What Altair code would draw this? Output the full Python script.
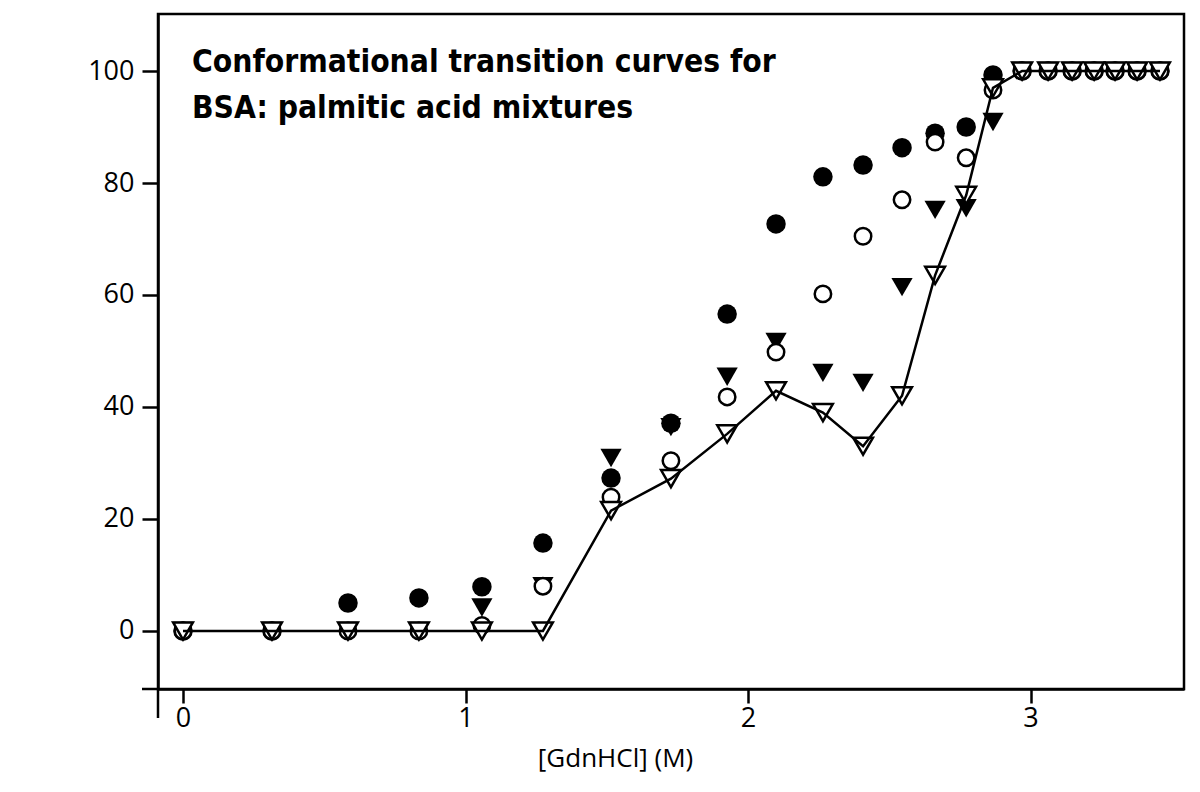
import altair as alt
import pandas as pd

# [GdnHCl] (M)
gdn = [0.0, 0.315, 0.584, 0.835, 1.058, 1.274, 1.515, 1.727, 1.926, 2.099, 2.265,
       2.407, 2.545, 2.662, 2.772, 2.867, 2.970, 3.062, 3.147, 3.225, 3.299, 3.377, 3.458]

filled_circle = [0, 0, 5.0, 5.9, 7.9, 15.7, 27.3, 37.1, 56.6, 72.7, 81.1,
                 83.2, 86.3, 88.9, 90.0, 99.3, 100, 100, 100, 100, 100, 100, 100]
filled_tri = [0, 0, 0, 0, 4.2, 8.0, 30.9, 36.4, 45.4, 51.6, 46.1,
              44.3, 61.4, 75.2, 75.5, 90.9, 100, 100, 100, 100, 100, 100, 100]
open_circle = [0, 0, 0, 0, 1.0, 8.0, 23.9, 30.4, 41.8, 49.8, 60.2,
               70.5, 77.0, 87.3, 84.5, 96.6, 100, 100, 100, 100, 100, 100, 100]
open_tri = [0, 0, 0, 0, 0, 0, 21.5, 27.2, 35.2, 42.9, 39.0,
            33.0, 42.0, 63.5, 77.8, 97.0, 100, 100, 100, 100, 100, 100, 100]

x_ticks = [0, 1, 2, 3]
y_ticks = [0, 20, 40, 60, 80, 100]
title_lines = ["Conformational transition curves for", "BSA: palmitic acid mixtures"]
x_title = "[GdnHCl] (M)"

df = pd.DataFrame({"x": gdn, "fc": filled_circle, "ft": filled_tri,
                   "oc": open_circle, "ot": open_tri})

W, H = 1026, 675
LABEL_FONT = "Open Sans, Lato, sans-serif"

xs = alt.Scale(domain=[-0.0885, 3.543], nice=False, zero=False)
ys = alt.Scale(domain=[-10.36, 110.18], nice=False, zero=False)

x_axis = alt.Axis(values=x_ticks, title=x_title, tickSize=14, labelPadding=2,
                  titleX=457, titleY=69, titleBaseline="middle", titleAnchor="start",
                  titleAlign="center", titleFont=LABEL_FONT, titleFontSize=26,
                  titleFontWeight="normal", titleColor="black")
y_axis = alt.Axis(values=y_ticks, title=None, tickSize=16, labelPadding=8)

X = alt.X("x:Q", scale=xs, axis=x_axis)


def Y(field):
    return alt.Y(f"{field}:Q", scale=ys, axis=y_axis)


base = alt.Chart(df)

fc = base.mark_point(shape="circle", filled=True, color="black", size=380,
                     opacity=1, strokeWidth=0).encode(x=X, y=Y("fc"))
ft = base.mark_point(shape="triangle-down", filled=True, color="black", size=450,
                     opacity=1, strokeWidth=0).encode(x=X, y=Y("ft"))
oc = base.mark_point(shape="circle", filled=True, fill="white", stroke="black",
                     strokeWidth=2.5, size=270, opacity=1).encode(x=X, y=Y("oc"))
ot = base.mark_point(shape="triangle-down", filled=True, fill="white", stroke="black",
                     strokeWidth=2.5, size=390, opacity=1).encode(x=X, y=Y("ot"))
line = base.mark_line(color="black", strokeWidth=2.5).encode(x=X, y=Y("ot"))

one = pd.DataFrame({"a": [0]})
y_ext = alt.Chart(one).mark_rule(color="black", strokeWidth=2.5).encode(
    x=alt.value(0), y=alt.value(H), y2=alt.value(H + 29))
x_ext = alt.Chart(one).mark_rule(color="black", strokeWidth=2.5).encode(
    x=alt.value(-16), x2=alt.value(0), y=alt.value(H))

title = alt.Chart(one).mark_text(
    text=title_lines, align="left", baseline="alphabetic",
    font="Liberation Sans Narrow, DejaVu Sans Condensed, sans-serif",
    fontSize=31.5, fontWeight="bold", lineHeight=46, color="black"
).encode(x=alt.value(34), y=alt.value(58))

chart = alt.layer(fc, ft, oc, ot, line, y_ext, x_ext, title).properties(
    width=W, height=H,
    autosize=alt.AutoSizeParams(type="none"),
    padding={"left": 150, "top": 6, "right": 8, "bottom": 95},
    background="white",
).configure_view(
    stroke="black", strokeWidth=2.5
).configure_axis(
    grid=False, domainColor="black", domainWidth=2.5, tickColor="black",
    tickWidth=2.5, labelColor="black", labelFont=LABEL_FONT, labelFontSize=27,
    labelFontWeight="normal"
)

chart.save("out.html", embed_options={"renderer": "svg", "actions": False})
